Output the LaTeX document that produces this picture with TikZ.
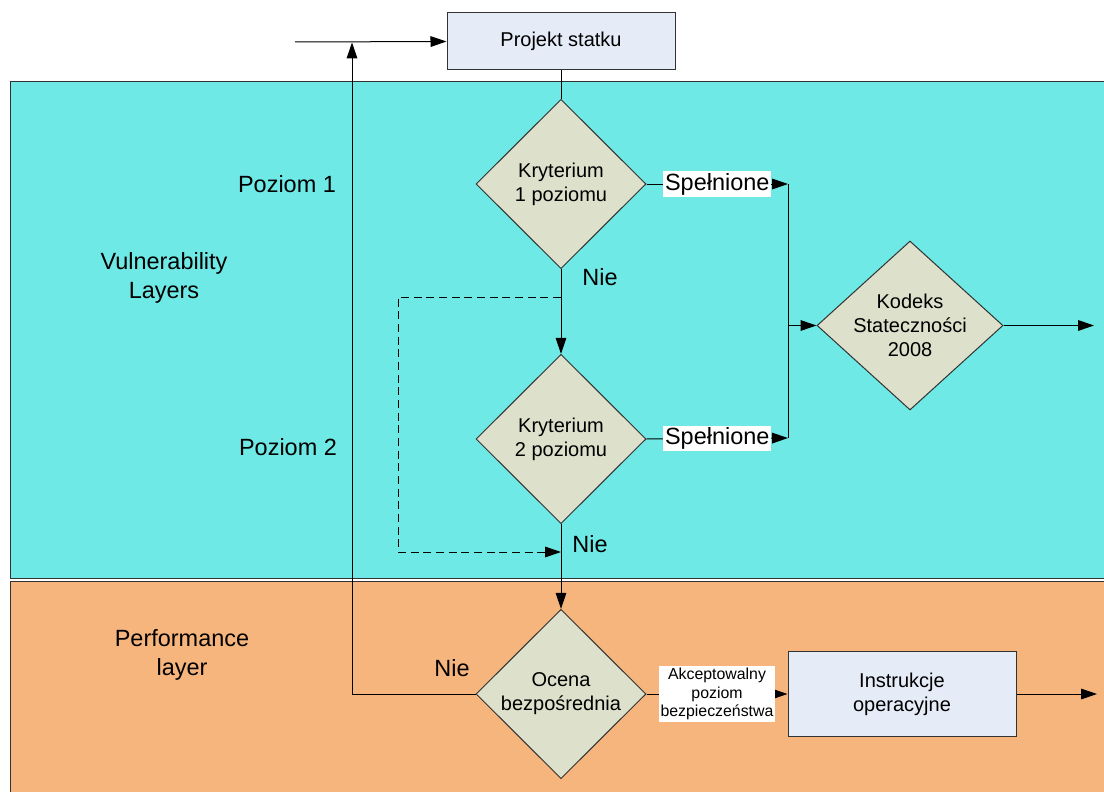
\documentclass[tikz,border=0pt]{standalone}
\usepackage{fontspec}
\setmainfont{Liberation Sans}
\usetikzlibrary{shapes.geometric,arrows.meta}

\definecolor{bandcyan}{RGB}{110,233,230}
\definecolor{bandorange}{RGB}{247,181,126}
\definecolor{decfill}{RGB}{221,224,203}
\definecolor{boxfill}{RGB}{229,235,247}
\definecolor{edge}{RGB}{50,50,50}

\tikzset{
  big/.style={font=\fontsize{17.6}{21.5}\selectfont, align=center, inner sep=0pt},
  mid/.style={font=\fontsize{15}{18}\selectfont, align=center, inner sep=0pt},
  small/.style={font=\fontsize{11.9}{14}\selectfont, align=center},
  band/.style={draw=edge, line width=0.75pt},
  procbox/.style={draw=edge, fill=boxfill, line width=0.75pt, minimum width=171pt},
  decision/.style={diamond, draw=edge, fill=decfill, line width=0.75pt, inner sep=0pt,
    minimum width=127.5pt, minimum height=127pt},
  flow/.style={line width=0.75pt, -{Triangle[length=12pt,width=8pt]}},
  plain/.style={line width=0.75pt},
  tag/.style={big, fill=white, inner sep=1.2pt},
  tagsmall/.style={small, fill=white, inner sep=1.5pt},
}

\begin{document}
\begin{tikzpicture}[x=0.75pt, y=-0.75pt]
\useasboundingbox (0,0) rectangle (1104,792);
\clip (0,0) rectangle (1104,792);
\fill[white] (0,0) rectangle (1104,792);

% layer bands
\draw[band, fill=bandcyan] (10.5,82) rectangle (1120,578);
\draw[band, fill=bandorange] (10.5,581) rectangle (1120,810);

% layer and level captions
\node[big] (vul) at (164,278) {Vulnerability\\Layers};
\node[big] (perf) at (182,655) {Performance\\layer};
\node[big] (poz1) at (287,184) {Poziom 1};
\node[big] (poz2) at (288,447) {Poziom 2};

% process boxes
\node[procbox, minimum height=42.75pt] (proj) at (561,41.5) {\fontsize{15}{18}\selectfont Projekt statku};
\node[procbox, minimum height=63.75pt, mid] (ins) at (902,694) {Instrukcje\\operacyjne};

% decisions
\node[decision, label={[mid]center:Kryterium\\1 poziomu}] (k1) at (561,184) {};
\node[decision, label={[mid]center:Kryterium\\2 poziomu}] (k2) at (561,439) {};
\node[decision, label={[mid]center:Ocena\\bezpośrednia}] (oc) at (561,694) {};
\node[decision, minimum width=139.5pt, minimum height=126.75pt,
      label={[mid]center:Kodeks\\Stateczności\\2008}] (kod) at (910,325.5) {};

% helper points
\coordinate (inp) at (295,42);
\coordinate (j1) at (788,184);
\coordinate (j2) at (788,438);
\coordinate (jm) at (788,325.5);
\coordinate (out1) at (1094,325.5);
\coordinate (out2) at (1097,694);
\coordinate (back) at (352,694);
\coordinate (backtop) at (352,42.5);
\coordinate (d1) at (561,297);
\coordinate (d2) at (398,297);
\coordinate (d3) at (398,552);
\coordinate (d4) at (561,552);

% connectors
\draw[flow] (inp) -- (proj.west);
\draw[plain] (proj.south) -- (k1.north);
\draw[flow] (k1.south) -- (k2.north);
\draw[flow] (k2.south) -- (oc.north);
\draw[flow, dash pattern=on 6pt off 3.5pt] (d1) -- (d2) -- (d3) -- (d4);

\draw[flow] (k1.east) -- node[tag] (s1) {Spełnione} (j1);
\draw[flow] (k2.east) -- node[tag] (s2) {Spełnione} (j2);
\draw[plain] (j1) -- (j2);
\draw[flow] (jm) -- (kod.west);
\draw[flow] (kod.east) -- (out1);

\draw[flow] (oc.west) -- (back) -- (backtop);
\draw[flow] (oc.east) -- node[tagsmall] (acc) {Akceptowalny\\poziom\\bezpieczeństwa} (ins.west);
\draw[flow] (ins.east) -- (out2);

% "no" branches
\node[big] (nie1) at (600,277) {Nie};
\node[big] (nie2) at (590,544) {Nie};
\node[big] (nie3) at (452,668) {Nie};
\end{tikzpicture}
\end{document}
